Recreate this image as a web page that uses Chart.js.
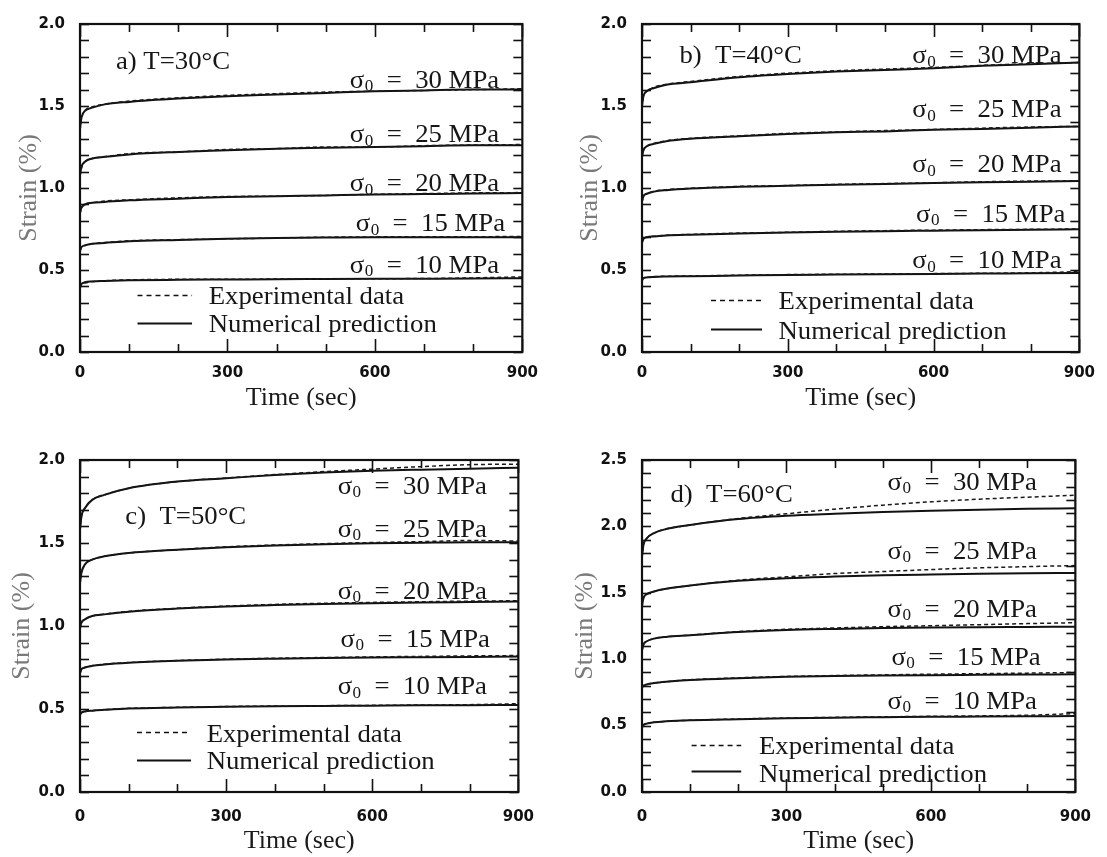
<!DOCTYPE html>
<html>
<head>
<meta charset="utf-8">
<script src="https://cdn.jsdelivr.net/npm/chart.js@4.4.0/dist/chart.umd.min.js"></script>
<style>
  html, body { margin: 0; padding: 0; background: #fff; }
  #wrap { position: relative; width: 1107px; height: 857px; overflow: hidden; background: #fff; }
  canvas { position: absolute; }
</style>
</head>
<body>
<div id="wrap">
  <canvas id="pa" width="550" height="430" style="left:0;top:0"></canvas>
  <canvas id="pb" width="557" height="430" style="left:550px;top:0"></canvas>
  <canvas id="pc" width="550" height="427" style="left:0;top:430px"></canvas>
  <canvas id="pd" width="557" height="427" style="left:550px;top:430px"></canvas>
</div>
<script>
// Creep time grid (sec)
const timeSec = [0, 3, 10, 25, 50, 100, 200, 300, 400, 500, 600, 700, 800, 900];
const stressLevels = [30, 25, 20, 15, 10];
const xTickLabels = [0, 300, 600, 900];
const yTickLabels = ['0.0', '0.5', '1.0', '1.5', '2.0', '2.5'];
const panelTitles = ['a) T=30\u00B0C', 'b)  T=40\u00B0C', 'c)  T=50\u00B0C', 'd)  T=60\u00B0C'];
const legendTexts = ['Experimental data', 'Numerical prediction'];

// T = 30 °C, strain (%)
const numT30_s30 = [1.36, 1.43, 1.47, 1.49, 1.51, 1.525, 1.545, 1.56, 1.57, 1.58, 1.59, 1.595, 1.60, 1.60];
const numT30_s25 = [1.08, 1.13, 1.16, 1.18, 1.19, 1.205, 1.22, 1.23, 1.24, 1.245, 1.25, 1.255, 1.26, 1.26];
const numT30_s20 = [0.85, 0.88, 0.90, 0.91, 0.915, 0.925, 0.935, 0.945, 0.95, 0.955, 0.96, 0.963, 0.966, 0.97];
const numT30_s15 = [0.62, 0.64, 0.65, 0.66, 0.665, 0.675, 0.683, 0.69, 0.695, 0.698, 0.70, 0.70, 0.70, 0.70];
const numT30_s10 = [0.40, 0.415, 0.425, 0.43, 0.433, 0.437, 0.44, 0.442, 0.444, 0.445, 0.446, 0.447, 0.448, 0.45];
const expT30_s30 = [1.35, 1.42, 1.47, 1.495, 1.51, 1.53, 1.55, 1.565, 1.575, 1.585, 1.59, 1.595, 1.60, 1.605];
const expT30_s25 = [1.07, 1.12, 1.16, 1.18, 1.19, 1.21, 1.22, 1.235, 1.24, 1.25, 1.25, 1.258, 1.262, 1.265];
const expT30_s20 = [0.84, 0.88, 0.90, 0.91, 0.92, 0.928, 0.94, 0.948, 0.95, 0.955, 0.962, 0.966, 0.97, 0.972];
const expT30_s15 = [0.61, 0.64, 0.65, 0.66, 0.668, 0.678, 0.685, 0.69, 0.695, 0.70, 0.702, 0.703, 0.703, 0.705];
const expT30_s10 = [0.39, 0.41, 0.42, 0.43, 0.435, 0.44, 0.443, 0.443, 0.445, 0.446, 0.447, 0.448, 0.452, 0.458];

// T = 40 °C
const numT40_s30 = [1.50, 1.56, 1.59, 1.61, 1.63, 1.645, 1.675, 1.695, 1.71, 1.72, 1.73, 1.745, 1.755, 1.765];
const numT40_s25 = [1.19, 1.23, 1.255, 1.27, 1.285, 1.30, 1.315, 1.33, 1.34, 1.345, 1.355, 1.36, 1.368, 1.375];
const numT40_s20 = [0.92, 0.95, 0.965, 0.978, 0.987, 0.997, 1.007, 1.013, 1.02, 1.025, 1.03, 1.035, 1.038, 1.042];
const numT40_s15 = [0.67, 0.69, 0.70, 0.705, 0.71, 0.715, 0.722, 0.728, 0.733, 0.737, 0.74, 0.743, 0.745, 0.748];
const numT40_s10 = [0.44, 0.45, 0.455, 0.458, 0.46, 0.462, 0.466, 0.47, 0.472, 0.474, 0.476, 0.478, 0.48, 0.482];
const expT40_s30 = [1.49, 1.56, 1.59, 1.615, 1.632, 1.65, 1.68, 1.70, 1.715, 1.725, 1.735, 1.748, 1.758, 1.765];
const expT40_s25 = [1.18, 1.23, 1.255, 1.272, 1.288, 1.303, 1.318, 1.333, 1.342, 1.35, 1.357, 1.365, 1.372, 1.376];
const expT40_s20 = [0.91, 0.95, 0.965, 0.98, 0.99, 0.998, 1.01, 1.015, 1.022, 1.027, 1.032, 1.038, 1.042, 1.044];
const expT40_s15 = [0.66, 0.69, 0.70, 0.706, 0.712, 0.717, 0.725, 0.73, 0.736, 0.74, 0.743, 0.746, 0.748, 0.75];
const expT40_s10 = [0.43, 0.45, 0.455, 0.46, 0.462, 0.464, 0.468, 0.472, 0.474, 0.476, 0.478, 0.48, 0.483, 0.49];

// T = 50 °C
const numT50_s30 = [1.58, 1.66, 1.71, 1.76, 1.79, 1.83, 1.87, 1.89, 1.91, 1.925, 1.935, 1.942, 1.948, 1.953];
const numT50_s25 = [1.26, 1.32, 1.37, 1.40, 1.42, 1.44, 1.46, 1.475, 1.485, 1.492, 1.498, 1.502, 1.505, 1.505];
const numT50_s20 = [0.99, 1.02, 1.04, 1.06, 1.07, 1.086, 1.105, 1.118, 1.126, 1.132, 1.137, 1.141, 1.144, 1.147];
const numT50_s15 = [0.72, 0.74, 0.75, 0.76, 0.768, 0.778, 0.79, 0.798, 0.803, 0.807, 0.81, 0.812, 0.814, 0.816];
const numT50_s10 = [0.47, 0.478, 0.485, 0.49, 0.495, 0.503, 0.509, 0.513, 0.516, 0.518, 0.52, 0.522, 0.523, 0.524];
const expT50_s30 = [1.57, 1.66, 1.71, 1.76, 1.79, 1.83, 1.87, 1.892, 1.912, 1.93, 1.945, 1.96, 1.972, 1.975];
const expT50_s25 = [1.25, 1.32, 1.37, 1.40, 1.42, 1.44, 1.46, 1.477, 1.488, 1.496, 1.503, 1.508, 1.515, 1.512];
const expT50_s20 = [0.98, 1.02, 1.04, 1.06, 1.072, 1.088, 1.107, 1.12, 1.13, 1.137, 1.142, 1.146, 1.15, 1.152];
const expT50_s15 = [0.71, 0.74, 0.75, 0.76, 0.77, 0.78, 0.792, 0.80, 0.806, 0.81, 0.814, 0.817, 0.82, 0.822];
const expT50_s10 = [0.46, 0.478, 0.485, 0.49, 0.496, 0.504, 0.51, 0.515, 0.518, 0.52, 0.522, 0.524, 0.526, 0.532];

// T = 60 °C
const numT60_s30 = [1.77, 1.86, 1.91, 1.95, 1.98, 2.01, 2.055, 2.08, 2.095, 2.108, 2.118, 2.126, 2.132, 2.137];
const numT60_s25 = [1.40, 1.46, 1.49, 1.51, 1.53, 1.555, 1.59, 1.61, 1.622, 1.632, 1.638, 1.643, 1.647, 1.65];
const numT60_s20 = [1.07, 1.11, 1.135, 1.155, 1.168, 1.18, 1.205, 1.22, 1.228, 1.234, 1.238, 1.241, 1.243, 1.245];
const numT60_s15 = [0.79, 0.80, 0.81, 0.82, 0.83, 0.843, 0.857, 0.867, 0.873, 0.877, 0.88, 0.882, 0.884, 0.886];
const numT60_s10 = [0.49, 0.505, 0.515, 0.525, 0.532, 0.54, 0.548, 0.555, 0.56, 0.563, 0.566, 0.568, 0.57, 0.572];
const expT60_s30 = [1.76, 1.86, 1.91, 1.95, 1.98, 2.01, 2.06, 2.095, 2.13, 2.16, 2.185, 2.205, 2.22, 2.235];
const expT60_s25 = [1.39, 1.46, 1.49, 1.51, 1.53, 1.555, 1.595, 1.62, 1.645, 1.66, 1.675, 1.688, 1.697, 1.705];
const expT60_s20 = [1.06, 1.11, 1.135, 1.155, 1.168, 1.182, 1.208, 1.225, 1.235, 1.245, 1.252, 1.26, 1.268, 1.275];
const expT60_s15 = [0.78, 0.80, 0.81, 0.82, 0.83, 0.845, 0.86, 0.87, 0.877, 0.882, 0.887, 0.891, 0.895, 0.90];
const expT60_s10 = [0.48, 0.505, 0.515, 0.525, 0.532, 0.54, 0.55, 0.557, 0.562, 0.566, 0.57, 0.573, 0.578, 0.59];

const SERIF = '"Liberation Serif", "Times New Roman", serif';
const NOTE_SIZE = 25;
const NOTE_STRETCH = 1.07;
const TICK_FONT = { family: '"DejaVu Sans"', weight: 'bold', size: 15 };

// Frame, inward tick marks, panel notes and the in-plot key
const creepPlotPlugin = {
  id: 'creepPlot',
  afterDraw(chart, args, o) {
    const { ctx, chartArea: a, scales: { x, y } } = chart;
    ctx.save();
    ctx.strokeStyle = '#111';
    ctx.lineCap = 'butt';
    ctx.lineWidth = 1.6;
    const seg = (x1, y1, x2, y2) => { ctx.beginPath(); ctx.moveTo(x1, y1); ctx.lineTo(x2, y2); ctx.stroke(); };
    x.ticks.forEach(t => {
      const px = Math.round(x.getPixelForValue(t.value)) + 0.5;
      const len = Math.abs(t.value % 300) < 1e-6 ? 13 : 8;
      seg(px, a.bottom, px, a.bottom - len);
      seg(px, a.top, px, a.top + len);
    });
    y.ticks.forEach(t => {
      const py = Math.round(y.getPixelForValue(t.value)) + 0.5;
      seg(a.left, py, a.left + 9, py);
      seg(a.right, py, a.right - 9, py);
    });
    ctx.lineWidth = 2.2;
    ctx.strokeRect(a.left, a.top, a.right - a.left, a.bottom - a.top);

    ctx.fillStyle = '#161616';
    ctx.textBaseline = 'middle';
    ctx.textAlign = 'left';
    const stretched = (px, py, fn) => {
      ctx.save(); ctx.translate(px, py); ctx.scale(NOTE_STRETCH, 1); fn(); ctx.restore();
    };
    const big = NOTE_SIZE + 'px ' + SERIF;
    const small = Math.round(NOTE_SIZE * 0.62) + 'px ' + SERIF;

    // panel title
    stretched(x.getPixelForValue(o.title.t), y.getPixelForValue(o.title.v), () => {
      ctx.font = big; ctx.fillText(o.title.text, 0, 0);
    });

    // stress labels
    o.stress.forEach((s, i) => {
      stretched(x.getPixelForValue(s.t), y.getPixelForValue(s.v), () => {
        let cx = 0;
        ctx.font = big; ctx.fillText('\u03C3', cx, 0); cx += ctx.measureText('\u03C3').width + 0.5;
        ctx.font = small; ctx.fillText('0', cx, 6); cx += ctx.measureText('0').width;
        ctx.font = big; ctx.fillText('  =  ' + stressLevels[i] + ' MPa', cx, 0);
      });
    });

    // key
    const k = o.key;
    const lx1 = x.getPixelForValue(k.lineT[0]), lx2 = x.getPixelForValue(k.lineT[1]);
    ctx.lineWidth = 1.5;
    ctx.setLineDash([5, 4]);
    const yd = Math.round(y.getPixelForValue(k.rows[0].lineV)) + 0.5;
    seg(lx1, yd, lx2, yd);
    ctx.setLineDash([]);
    ctx.lineWidth = 1.8;
    const ys = Math.round(y.getPixelForValue(k.rows[1].lineV)) + 0.5;
    seg(lx1, ys, lx2, ys);
    k.rows.forEach((r, i) => {
      stretched(x.getPixelForValue(k.textT), y.getPixelForValue(r.textV), () => {
        ctx.font = big; ctx.fillText(legendTexts[i], 0, 0);
      });
    });
    ctx.restore();
  }
};

function buildDatasets(numArrs, expArrs) {
  const sets = [];
  expArrs.forEach(arr => sets.push({
    data: timeSec.map((t, i) => ({ x: t, y: arr[i] })),
    borderColor: '#1a1a1a', borderWidth: 1.5, borderDash: [4, 3],
    pointRadius: 0, fill: false, cubicInterpolationMode: 'monotone'
  }));
  numArrs.forEach(arr => sets.push({
    data: timeSec.map((t, i) => ({ x: t, y: arr[i] })),
    borderColor: '#111', borderWidth: 2, borderDash: [],
    pointRadius: 0, fill: false, cubicInterpolationMode: 'monotone'
  }));
  return sets;
}

function makePanel(id, cfg) {
  new Chart(document.getElementById(id), {
    type: 'line',
    data: { datasets: buildDatasets(cfg.num, cfg.exp) },
    options: {
      responsive: false,
      animation: false,
      layout: { padding: { left: 0, top: cfg.padTop, right: cfg.padRight, bottom: 0 } },
      plugins: {
        legend: { display: false },
        tooltip: { enabled: false },
        creepPlot: cfg.notes
      },
      scales: {
        x: {
          type: 'linear', min: 0, max: 900,
          grid: { display: false, drawTicks: false },
          border: { display: false },
          afterFit: s => { s.height = cfg.xAxisH; },
          ticks: {
            stepSize: 100, autoSkip: false, maxRotation: 0, padding: cfg.xTickPad,
            color: '#111', font: TICK_FONT,
            callback: v => xTickLabels.includes(v) ? String(v) : ''
          },
          title: {
            display: true, text: 'Time (sec)', color: '#1a1a1a',
            font: { family: SERIF, size: 26 }, padding: { top: 0, bottom: cfg.xTitlePad }
          }
        },
        y: {
          type: 'linear', min: 0, max: cfg.yMax,
          grid: { display: false, drawTicks: false },
          border: { display: false },
          afterFit: s => { s.width = cfg.yAxisW; },
          ticks: {
            stepSize: 0.1, autoSkip: false, maxTicksLimit: 60, padding: 15,
            color: '#111', font: TICK_FONT,
            callback: v => {
              const lbl = yTickLabels.find(l => Math.abs(parseFloat(l) - v) < 1e-6);
              return lbl !== undefined ? lbl : '';
            }
          },
          title: {
            display: true, text: 'Strain (%)', color: '#7a7a7a',
            font: { family: SERIF, size: 26 }, padding: { top: cfg.yTitlePad, bottom: 0 }
          }
        }
      }
    },
    plugins: [creepPlotPlugin]
  });
}

makePanel('pa', {
  num: [numT30_s30, numT30_s25, numT30_s20, numT30_s15, numT30_s10],
  exp: [expT30_s30, expT30_s25, expT30_s20, expT30_s15, expT30_s10],
  yMax: 2.0, padTop: 19, padRight: 24, yAxisW: 80, xAxisH: 78,
  xTickPad: 12, xTitlePad: 16, yTitlePad: 14,
  notes: {
    title: { t: 73, v: 1.766, text: panelTitles[0] },
    stress: [{ t: 549, v: 1.652 }, { t: 549, v: 1.321 }, { t: 549, v: 1.021 }, { t: 561, v: 0.775 }, { t: 549, v: 0.523 }],
    key: { lineT: [117, 228], textT: 262, rows: [{ lineV: 0.345, textV: 0.33 }, { lineV: 0.175, textV: 0.162 }] }
  }
});

makePanel('pb', {
  num: [numT40_s30, numT40_s25, numT40_s20, numT40_s15, numT40_s10],
  exp: [expT40_s30, expT40_s25, expT40_s20, expT40_s15, expT40_s10],
  yMax: 2.0, padTop: 19, padRight: 20, yAxisW: 92, xAxisH: 78,
  xTickPad: 12, xTitlePad: 16, yTitlePad: 25,
  notes: {
    title: { t: 77, v: 1.80, text: panelTitles[1] },
    stress: [{ t: 556, v: 1.80 }, { t: 556, v: 1.471 }, { t: 556, v: 1.135 }, { t: 564, v: 0.835 }, { t: 556, v: 0.553 }],
    key: { lineT: [142, 247], textT: 281, rows: [{ lineV: 0.315, textV: 0.30 }, { lineV: 0.14, textV: 0.12 }] }
  }
});

makePanel('pc', {
  num: [numT50_s30, numT50_s25, numT50_s20, numT50_s15, numT50_s10],
  exp: [expT50_s30, expT50_s25, expT50_s20, expT50_s15, expT50_s10],
  yMax: 2.0, padTop: 30, padRight: 24, yAxisW: 80, xAxisH: 65,
  xTickPad: 16, xTitlePad: 0, yTitlePad: 7,
  notes: {
    title: { t: 93, v: 1.657, text: panelTitles[2] },
    stress: [{ t: 529, v: 1.837 }, { t: 529, v: 1.578 }, { t: 529, v: 1.205 }, { t: 535, v: 0.916 }, { t: 529, v: 0.627 }],
    key: { lineT: [117, 228], textT: 260, rows: [{ lineV: 0.36, textV: 0.343 }, { lineV: 0.19, textV: 0.181 }] }
  }
});

makePanel('pd', {
  num: [numT60_s30, numT60_s25, numT60_s20, numT60_s15, numT60_s10],
  exp: [expT60_s30, expT60_s25, expT60_s20, expT60_s15, expT60_s10],
  yMax: 2.5, padTop: 30, padRight: 20, yAxisW: 92, xAxisH: 65,
  xTickPad: 16, xTitlePad: 0, yTitlePad: 20,
  notes: {
    title: { t: 59, v: 2.236, text: panelTitles[3] },
    stress: [{ t: 510, v: 2.327 }, { t: 510, v: 1.807 }, { t: 510, v: 1.370 }, { t: 518, v: 1.009 }, { t: 510, v: 0.678 }],
    key: { lineT: [103, 206], textT: 243, rows: [{ lineV: 0.355, textV: 0.339 }, { lineV: 0.16, textV: 0.128 }] }
  }
});
</script>
</body>
</html>
